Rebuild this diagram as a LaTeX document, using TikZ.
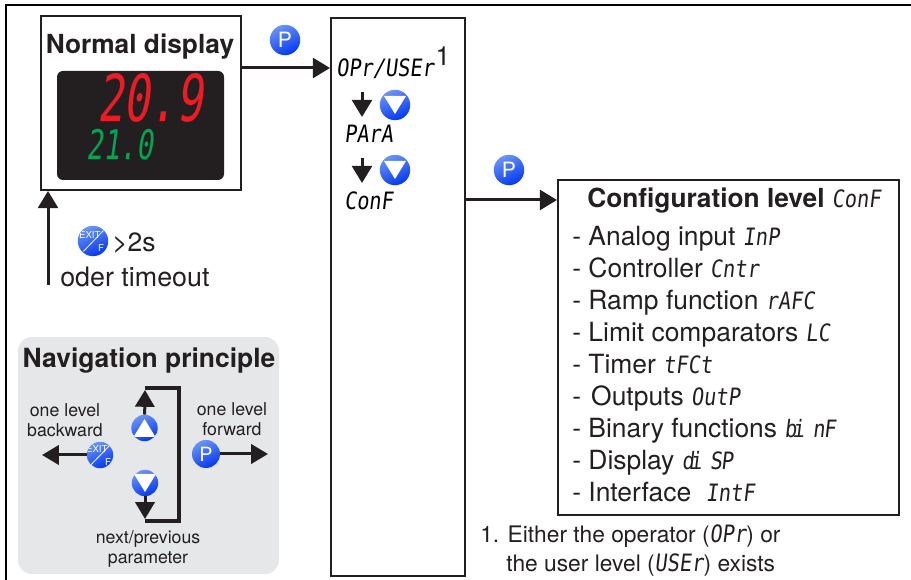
\documentclass[tikz,border=0pt]{standalone}
\usepackage{fontspec}
\setmainfont{TeX Gyre Heros}
\newfontfamily\lcdfont[FakeSlant=0.12,FakeStretch=0.85]{DejaVu Sans Mono}
\newfontfamily\lcdbig[FakeSlant=0.14,FakeStretch=0.68]{DejaVu Sans Mono}
\newcommand{\lcd}[1]{{\lcdfont\mdseries\fontsize{17}{17}\selectfont #1}}
\usetikzlibrary{arrows.meta,calc}
\definecolor{inkblack}{HTML}{231F20}
\definecolor{panelgray}{HTML}{E6E7E8}
\definecolor{lightblue}{HTML}{6A94F4}
\definecolor{deepblue}{HTML}{0438F0}
\definecolor{ledred}{HTML}{ED1C24}
\definecolor{ledgreen}{HTML}{00A651}
\begin{document}
\begin{tikzpicture}[
    levelbox/.style ={rectangle, draw=inkblack, line width=0.05cm, inner sep=0pt},
    flow/.style ={inkblack, line width=0.075cm, -{Triangle[length=0.43cm,width=0.5cm]}},
    navflow/.style ={inkblack, line width=0.075cm, -{Triangle[length=0.42cm,width=0.48cm]}},
    label/.style ={inner sep=0pt, text=inkblack, font=\fontsize{18.8}{20}\selectfont},
    smalllabel/.style ={inner sep=0pt, text=inkblack, align=center, font=\fontsize{12.6}{14.2}\selectfont},
    heading/.style ={inner sep=0pt, text=inkblack, font=\bfseries\fontsize{18.7}{20}\selectfont},
    note/.style ={inner sep=0pt, text=inkblack, font=\fontsize{16.2}{18}\selectfont},
    button/.style ={circle, inner sep=0pt, minimum size=0.76cm, top color=lightblue, bottom color=deepblue, shading angle=25},
    pbutton/.style ={button, text=white, font=\fontsize{15}{15}\selectfont},
    dnbutton/.style ={button, path picture={\fill[white,shift={(path picture bounding box.center)},scale=#1]
        (-0.275,0.225) -- (0.275,0.225) -- (0,-0.225) -- cycle;}},
    upbutton/.style ={button, path picture={\fill[white,shift={(path picture bounding box.center)},scale=#1]
        (-0.275,-0.225) -- (0.275,-0.225) -- (0,0.225) -- cycle;}},
    exitbutton/.style ={button, path picture={
        \begin{scope}[shift={(path picture bounding box.center)},scale=#1]
        \draw[white, line width=0.02cm] (-0.24,-0.26) -- (0.26,0.26);
        \node[transform shape, text=white, inner sep=0pt, font=\fontsize{6.8}{6.8}\selectfont] at (-0.08,0.14) {EXIT};
        \node[transform shape, text=white, inner sep=0pt, font=\fontsize{6.8}{6.8}\selectfont] at (0.2,-0.18) {F};
        \end{scope}}}]
   \useasboundingbox (0,0) rectangle (22.775,14.5);
   \draw[black, line width=0.06cm] (22.775,14.375) -- (0.15,14.375) -- (0.15,0);

   % normal display
   \node[levelbox, minimum width=5cm, minimum height=4.35cm] (normal) at (3.525,11.925) {};
   \node[heading] (normaltitle) at (3.5,13.34) {Normal display};
   \node[fill=inkblack, rounded corners=0.15cm, minimum width=4.175cm, minimum height=2.725cm, inner sep=0pt] (screen) at (3.5125,11.3625) {};
   \node[inner sep=0pt, text=ledred, font=\lcdbig\fontsize{46}{46}\selectfont] (bigvalue) at (3.75,12.06) {20.9};
   \node[inner sep=0pt, text=ledgreen, font=\lcdbig\fontsize{29}{29}\selectfont] (smallvalue) at (3.0,10.88) {21.0};

   % levels
   \node[levelbox, minimum width=3.35cm, minimum height=13.95cm] (level) at (9.95,7.075) {};
   \node[levelbox, minimum width=8.525cm, minimum height=8.375cm] (config) at (18.2125,5.8125) {};
   \coordinate (rowone) at (0,12.8);
   \coordinate (rowtwo) at (0,9.5);
   \draw[flow] (normal.east |- rowone) -- (level.west |- rowone);
   \draw[flow] (level.east |- rowtwo) -- (config.west |- rowtwo);
   \node[pbutton] (pone) at (7.125,13.5) {P};
   \node[pbutton] (ptwo) at (12.725,10.25) {P};

   \node[inner sep=0pt, anchor=west] (opr) at (8.4,12.78) {\lcd{OPr/USEr}};
   \node[label] (oprmark) at (11.075,13.1) {1};
   \node[inner sep=0pt, anchor=west] (para) at (8.6,11.15) {\lcd{PArA}};
   \node[inner sep=0pt, anchor=west] (conf) at (8.6,9.475) {\lcd{ConF}};
   \coordinate (dnonestart) at (9.05,12.2);
   \coordinate (dnoneend) at (9.05,11.575);
   \coordinate (dntwostart) at (9.05,10.55);
   \coordinate (dntwoend) at (9.05,9.925);
   \draw[flow] (dnonestart) -- (dnoneend);
   \draw[flow] (dntwostart) -- (dntwoend);
   \node[dnbutton=1] (dnone) at (9.875,11.875) {};
   \node[dnbutton=1] (dntwo) at (9.875,10.25) {};

   % timeout
   \coordinate (timeoutstart) at (1.2,7.375);
   \draw[flow] (timeoutstart) -- (timeoutstart |- normal.south);
   \node[exitbutton=1] (exitone) at (2.325,8.475) {};
   \node[label, anchor=west] (hold) at (2.8,8.425) {>2s};
   \node[label, anchor=west, font=\fontsize{19.1}{20}\selectfont] (timeout) at (1.5,7.575) {oder timeout};

   % configuration list
   \node[heading, anchor=base west] (conftitle) at (14.675,9.3) {Configuration level \lcd{ConF}};
   \node[label, anchor=base west] (inp) at (14.3,8.35) {- Analog input \lcd{InP}};
   \node[label, anchor=base west] (cntr) at (14.3,7.55) {- Controller \lcd{Cntr}};
   \node[label, anchor=base west] (rafc) at (14.3,6.75) {- Ramp function \lcd{rAFC}};
   \node[label, anchor=base west] (lc) at (14.3,5.95) {- Limit comparators \lcd{LC}};
   \node[label, anchor=base west] (tfct) at (14.3,5.15) {- Timer \lcd{tFCt}};
   \node[label, anchor=base west] (outp) at (14.3,4.35) {- \kern2pt Outputs \lcd{OutP}};
   \node[label, anchor=base west] (binf) at (14.3,3.55) {- Binary functions \lcd{b\kern-3pt i\kern-3pt\ n\kern-1pt F}};
   \node[label, anchor=base west] (disp) at (14.3,2.75) {- Display \lcd{d\kern-3pt i\kern-3pt\ S\kern-1pt P}};
   \node[label, anchor=base west] (intf) at (14.3,1.95) {- Interface \ \lcd{IntF}};
   \node[note, anchor=base west] (noteone) at (12.0,0.925) {1. Either the operator (\lcd{OPr}) or};
   \node[note, anchor=base west] (notetwo) at (12.65,0.2) {the user level (\lcd{USEr}) exists};

   % navigation panel
   \node[fill=panelgray, rounded corners=0.35cm, minimum width=6.525cm, minimum height=5.925cm, inner sep=0pt] (panel) at (3.7125,3.1125) {};
   \node[heading, font=\bfseries\fontsize{18.8}{20}\selectfont] (navtitle) at (3.725,5.48) {Navigation principle};
   \node[smalllabel] (back) at (1.625,4.0) {one level\\backward};
   \node[smalllabel] (fwd) at (5.8,4.025) {one level\\forward};
   \node[smalllabel] (nextprev) at (3.7,0.78) {next/previous\\parameter};
   \coordinate (backtip) at (1.05,3.125);
   \coordinate (fwdtip) at (6.7,3.15);
   \coordinate (uptip) at (3.625,4.75);
   \coordinate (dntip) at (3.625,1.525);
   \coordinate (brtop) at (3.625,4.8);
   \coordinate (brbottom) at (3.625,1.475);
   \node[exitbutton=0.85, minimum size=0.66cm] (exittwo) at (2.5,3.125) {};
   \node[pbutton, minimum size=0.7cm, font=\fontsize{14}{14}\selectfont] (pthree) at (5.15,3.15) {P};
   \node[upbutton=0.8, minimum size=0.66cm] (up) at (3.6125,3.8) {};
   \node[dnbutton=0.8, minimum size=0.66cm] (dn) at (3.625,2.425) {};
   \draw[navflow] (exittwo) -- (backtip);
   \draw[navflow] (pthree) -- (fwdtip);
   \draw[navflow] (up) -- (uptip);
   \draw[navflow] (dn) -- (dntip);
   \draw[inkblack, line width=0.085cm] (brtop) -- ++(0.85,0) |- (brbottom);
 \end{tikzpicture}
\end{document}
